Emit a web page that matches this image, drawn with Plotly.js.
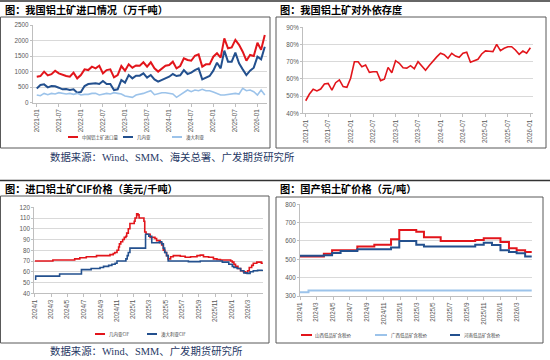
<!DOCTYPE html>
<html><head><meta charset="utf-8">
<script src="https://cdn.plot.ly/plotly-3.0.1.min.js"></script>
<style>html,body{margin:0;padding:0;background:#fff}#chart{width:550px;height:360px}</style>
</head><body><div id="chart"></div>
<script>
// ---------- Panel 1: 我国铝土矿进口情况（万千吨） ----------
const months = ['2021-01','2021-02','2021-03','2021-04','2021-05','2021-06','2021-07','2021-08','2021-09','2021-10','2021-11','2021-12',
'2022-01','2022-02','2022-03','2022-04','2022-05','2022-06','2022-07','2022-08','2022-09','2022-10','2022-11','2022-12',
'2023-01','2023-02','2023-03','2023-04','2023-05','2023-06','2023-07','2023-08','2023-09','2023-10','2023-11','2023-12',
'2024-01','2024-02','2024-03','2024-04','2024-05','2024-06','2024-07','2024-08','2024-09','2024-10','2024-11','2024-12',
'2025-01','2025-02','2025-03','2025-04','2025-05','2025-06','2025-07','2025-08','2025-09','2025-10','2025-11','2025-12',
'2026-01','2026-02','2026-03'];
const monthTicks = ['2021-01','2021-07','2022-01','2022-07','2023-01','2023-07','2024-01','2024-07','2025-01','2025-07','2026-01'];
const importTotal = [837,858,1000,880,920,1030,944,890,858,837,966,783,890,1073,1050,1160,1105,1190,944,1050,1073,815,890,1180,1030,1234,1127,1200,1190,1300,1160,1300,1105,1000,1105,1190,1210,1320,1105,1180,1430,1375,1350,1510,1555,1160,1234,1234,1480,1590,1450,2070,1750,1780,2020,1860,1640,1350,1535,1500,1930,1700,2180];
const importGuinea = [460,570,590,494,536,526,483,430,440,408,430,322,343,536,600,622,622,600,697,600,600,408,430,730,644,890,783,870,870,944,805,890,750,676,730,805,837,923,858,880,1050,923,966,1050,1105,750,805,858,1030,1288,1105,1675,1320,1320,1610,1266,1073,890,1030,1127,1480,1395,1800];
const importAustralia = [247,225,300,257,300,279,322,300,280,300,268,300,247,268,268,300,300,247,280,300,280,322,300,280,215,193,172,247,268,300,343,386,257,300,322,322,300,280,172,247,322,408,354,408,386,430,386,386,343,300,247,247,268,280,300,280,460,386,408,354,247,408,247];

// ---------- Panel 2: 我国铝土矿对外依存度 (%) ----------
const depMonths = months.slice(0, 61);
const dependency = [47.3,51.2,54.0,53.0,54.1,57.0,57.4,53.5,57.8,59.4,55.5,55.1,60.4,70.0,70.0,67.1,68.1,63.8,64.2,64.2,59.0,59.8,66.7,63.6,70.6,69.1,66.5,66.3,67.7,65.9,70.0,67.5,65.0,67.8,70.6,72.8,74.9,74.1,72.0,74.9,73.3,72.6,74.9,75.5,69.7,70.5,71.4,74.5,76.3,76.1,75.9,80.1,76.4,77.8,78.7,78.7,76.8,74.3,76.2,74.9,78.1];

// ---------- Panel 3: 进口铝土矿CIF价格（美元/千吨） ----------
const cifGuineaDates = ['2024-01-01','2024-03-08','2024-05-28','2024-06-16','2024-07-10','2024-08-17','2024-10-06','2024-10-18','2024-10-24','2024-11-01','2024-11-07','2024-11-10','2024-11-15','2024-11-22','2024-11-28','2024-12-04','2024-12-07','2024-12-13','2024-12-19','2025-01-04','2025-01-07','2025-01-13','2025-01-18','2025-01-22','2025-02-09','2025-02-12','2025-02-17','2025-03-04','2025-03-22','2025-03-28','2025-04-10','2025-04-16','2025-04-22','2025-04-28','2025-05-04','2025-05-10','2025-05-19','2025-05-29','2025-06-24','2025-07-12','2025-08-01','2025-08-25','2025-09-06','2025-09-18','2025-10-07','2025-10-25','2025-11-07','2025-11-20','2025-12-28','2026-01-03','2026-01-09','2026-01-15','2026-01-24','2026-02-03','2026-02-13','2026-02-21','2026-03-01','2026-03-07','2026-03-16','2026-03-22','2026-04-04','2026-04-21','2026-04-25'];
const cifGuinea = [70,71,72,73,74,75,76,77,78,80,83,86,88,90,92,93,96,100,105,107,110,114,113,110,107,97,95,92,91,89,87,85,80,78,75,72,74,75,74.5,73.5,74,75,75.5,74,73.5,72,71.5,71,70,69,67,65,63,61,60,59,61,64,66,68,69,68,67.5];
const cifAusDates = ['2024-01-01','2024-01-04','2024-04-02','2024-06-22','2024-07-28','2024-08-30','2024-09-12','2024-10-01','2024-10-13','2024-10-25','2024-11-01','2024-12-04','2024-12-09','2024-12-13','2024-12-19','2025-02-15','2025-02-27','2025-03-10','2025-04-07','2025-04-16','2025-04-22','2025-04-27','2025-05-04','2025-05-10','2025-07-24','2025-09-06','2025-11-27','2025-12-21','2026-01-03','2026-01-09','2026-01-21','2026-02-03','2026-02-15','2026-02-27','2026-03-10','2026-03-22','2026-04-07','2026-04-25'];
const cifAus = [53,56,58,62,63,64,65,66,67,68,70,72,75,78,82,95,93,87,88,86,82,78,75,70,69.5,70,69,67,65,64,63,61,59,58.5,60,61,61.5,62];

// ---------- Panel 4: 国产铝土矿价格（元/吨） ----------
const shanxiDates = ['2024-01-01','2024-03-28','2024-04-27','2024-07-28','2024-09-28','2024-11-28','2024-12-28','2025-02-28','2025-03-28','2025-05-28','2025-10-01','2025-11-01','2026-01-01','2026-02-01','2026-03-01','2026-04-01','2026-04-25'];
const shanxi = [515,530,550,570,580,610,660,650,620,600,605,615,595,560,550,540,540];
const guangxiDates = ['2024-01-01','2024-02-01','2026-04-25'];
const guangxi = [320,330,330];
const henanDates = ['2024-01-01','2024-03-28','2024-04-27','2024-05-28','2024-07-28','2024-11-28','2024-12-28','2025-02-28','2025-03-28','2025-10-01','2025-11-01','2025-12-01','2026-01-01','2026-02-01','2026-03-01','2026-04-01','2026-04-25'];
const henan = [520,522,535,545,555,565,600,580,570,580,590,578,550,540,533,515,515];

// ---------- style ----------
const RED = '#e2151b', BLUE = '#23508e', LIGHT = '#9cc3ea';
const W = 550, H = 360;
const X = p => p / W, Y = p => 1 - p / H;
const tickFont = {family: 'Liberation Sans, Arial, sans-serif', size: 6.3, color: '#595959'};
const axBase = {showline: true, linecolor: '#bfbfbf', linewidth: 1, ticks: 'outside', ticklen: 3,
  tickcolor: '#bfbfbf', tickfont: tickFont, zeroline: false, fixedrange: true};
const yBase = Object.assign({}, axBase, {showgrid: true, gridcolor: '#d9d9d9', gridwidth: 1, ticklen: 2});

const traces = [
  {x: months, y: importTotal, xaxis: 'x', yaxis: 'y', type: 'scatter', mode: 'lines', line: {color: RED, width: 2}},
  {x: months, y: importGuinea, xaxis: 'x', yaxis: 'y', type: 'scatter', mode: 'lines', line: {color: BLUE, width: 2}},
  {x: months, y: importAustralia, xaxis: 'x', yaxis: 'y', type: 'scatter', mode: 'lines', line: {color: LIGHT, width: 1.6}},
  {x: depMonths, y: dependency, xaxis: 'x2', yaxis: 'y2', type: 'scatter', mode: 'lines', line: {color: RED, width: 1.6}},
  {x: cifGuineaDates, y: cifGuinea, xaxis: 'x3', yaxis: 'y3', type: 'scatter', mode: 'lines', line: {color: RED, width: 1.6, shape: 'hv'}},
  {x: cifAusDates, y: cifAus, xaxis: 'x3', yaxis: 'y3', type: 'scatter', mode: 'lines', line: {color: BLUE, width: 1.6, shape: 'hv'}},
  {x: shanxiDates, y: shanxi, xaxis: 'x4', yaxis: 'y4', type: 'scatter', mode: 'lines', line: {color: RED, width: 2, shape: 'hv'}},
  {x: guangxiDates, y: guangxi, xaxis: 'x4', yaxis: 'y4', type: 'scatter', mode: 'lines', line: {color: LIGHT, width: 2, shape: 'hv'}},
  {x: henanDates, y: henan, xaxis: 'x4', yaxis: 'y4', type: 'scatter', mode: 'lines', line: {color: BLUE, width: 2, shape: 'hv'}}
];

const titleFont = {family: 'Noto Sans CJK SC, sans-serif', size: 10.2, color: '#000000', weight: 700};
const srcFont = {family: 'Liberation Serif, Noto Sans CJK SC, serif', size: 10.4, color: '#1f3864'};
const legFont = {family: 'Noto Sans CJK SC, sans-serif', size: 4.5, color: '#404040'};

function txt(text, px, py, font) {
  return {text: text, x: X(px), y: Y(py), xref: 'paper', yref: 'paper', xanchor: 'left', yanchor: 'middle', showarrow: false, font: font};
}
function hline(x0, x1, py, color, width) {
  return {type: 'line', xref: 'paper', yref: 'paper', x0: X(x0), x1: X(x1), y0: Y(py), y1: Y(py), line: {color: color, width: width}};
}
function box(x0, x1, y0, y1) {
  return {type: 'rect', xref: 'paper', yref: 'paper', x0: X(x0), x1: X(x1), y0: Y(y1), y1: Y(y0), line: {color: '#595959', width: 1}, fillcolor: 'rgba(0,0,0,0)'};
}

const shapes = [
  hline(0, 550, 1, '#333333', 1.6),
  hline(0, 550, 180.5, '#333333', 1.6),
  box(0.5, 270, 17, 148),
  box(276, 546, 17, 148),
  box(0.5, 269, 196, 343),
  box(276, 543, 197, 343),
  // legend samples
  hline(68, 78, 137, RED, 2), hline(123, 133, 137, BLUE, 2), hline(172, 182, 137, LIGHT, 2),
  hline(95, 105, 334, RED, 2), hline(147, 157, 334, BLUE, 2),
  hline(301, 312, 335, RED, 2), hline(375, 387, 335, LIGHT, 2), hline(450, 460, 335, BLUE, 2)
];

const annotations = [
  txt('图：我国铝土矿进口情况（万千吨）', 3, 9.5, titleFont),
  txt('图：我国铝土矿对外依存度', 278, 9.5, titleFont),
  txt('图：进口铝土矿CIF价格（美元/千吨）', 3, 188.5, titleFont),
  txt('图：国产铝土矿价格（元/吨）', 278, 188.5, titleFont),
  txt('数据来源：Wind、SMM、海关总署、广发期货研究所', 48, 157, srcFont),
  txt('数据来源：Wind、SMM、广发期货研究所', 48, 351, srcFont),
  txt('中国铝土矿进口量', 80, 137, legFont), txt('几内亚', 135, 137, legFont), txt('澳大利亚', 184, 137, legFont),
  txt('几内亚CIF', 107, 334, legFont), txt('澳大利亚CIF', 159, 334, legFont),
  txt('山西低品矿含税价', 313, 335, legFont), txt('广西低品矿含税价', 389, 335, legFont), txt('河南低品矿含税价', 462, 335, legFont)
];

const layout = {
  width: W, height: H, margin: {l: 0, r: 0, t: 0, b: 0},
  paper_bgcolor: '#ffffff', plot_bgcolor: '#ffffff', showlegend: false,
  font: {family: 'Liberation Sans, Noto Sans CJK SC, sans-serif'},
  xaxis: Object.assign({}, axBase, {domain: [X(32.7), X(267)], anchor: 'y', type: 'category', range: [-1.1, 62.6],
    tickvals: monthTicks, ticktext: monthTicks, tickangle: -90, showgrid: false}),
  yaxis: Object.assign({}, yBase, {domain: [Y(102.7), Y(25)], anchor: 'x', range: [0, 2500], tickvals: [0, 500, 1000, 1500, 2000, 2500]}),
  xaxis2: Object.assign({}, axBase, {domain: [X(303), X(533)], anchor: 'y2', type: 'category', range: [-0.72, 60.7],
    tickvals: monthTicks, ticktext: monthTicks, tickangle: -90, showgrid: false}),
  yaxis2: Object.assign({}, yBase, {domain: [Y(113.3), Y(27.3)], anchor: 'x2', range: [40, 90], tickvals: [40, 50, 60, 70, 80, 90],
    ticktext: ['40%', '50%', '60%', '70%', '80%', '90%']}),
  xaxis3: Object.assign({}, axBase, {domain: [X(34.3), X(263)], anchor: 'y3', type: 'date', range: ['2023-12-30', '2026-04-27'],
    tick0: '2024-01-01', dtick: 'M2', tickformat: '%Y/%-m', tickangle: -90, showgrid: false}),
  yaxis3: Object.assign({}, yBase, {domain: [Y(293.3), Y(207.3)], anchor: 'x3', range: [40, 120], dtick: 10, tick0: 40}),
  xaxis4: Object.assign({}, axBase, {domain: [X(300), X(532)], anchor: 'y4', type: 'date', range: ['2024-01-01', '2026-04-26'],
    tick0: '2024-01-01', dtick: 'M2', tickformat: '%Y/%-m', tickangle: -90, showgrid: false}),
  yaxis4: Object.assign({}, yBase, {domain: [Y(296), Y(204.3)], anchor: 'x4', range: [300, 800], dtick: 100, tick0: 300}),
  shapes: shapes,
  annotations: annotations
};

Plotly.newPlot('chart', traces, layout, {staticPlot: true, displayModeBar: false});
</script>
</body></html>
